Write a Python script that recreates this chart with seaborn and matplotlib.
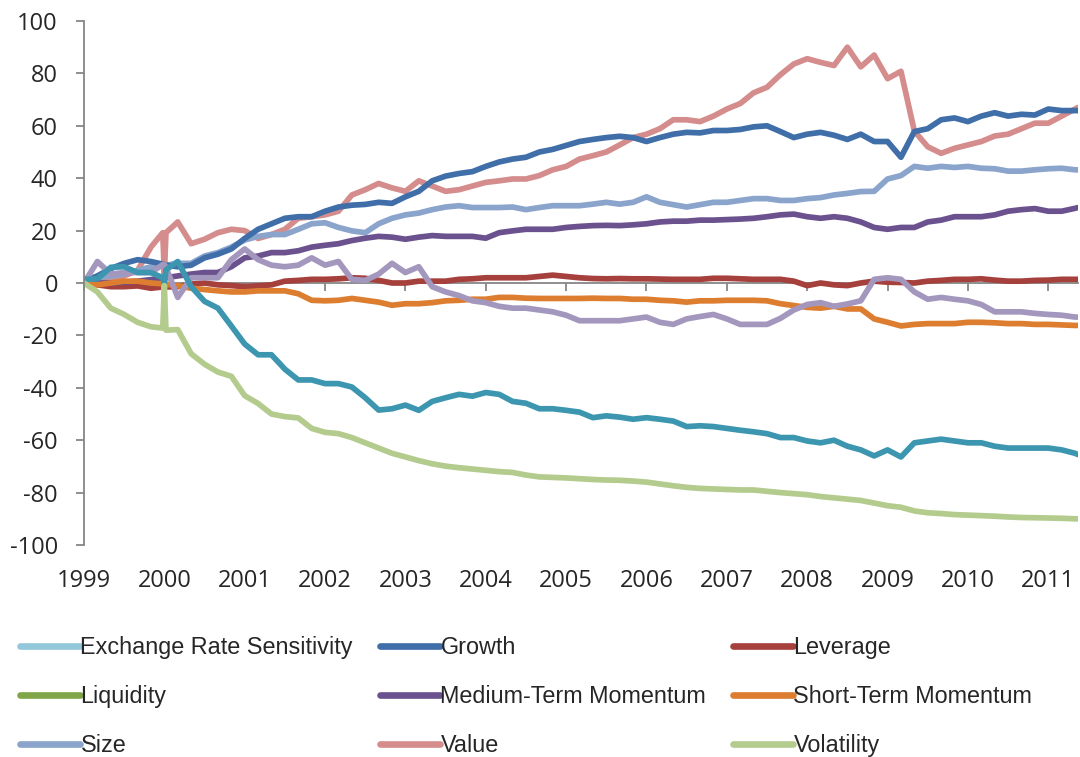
import numpy as np
import pandas as pd
import matplotlib
matplotlib.use("Agg")
import matplotlib.pyplot as plt
import seaborn as sns
from matplotlib.lines import Line2D

# ---------------- data ----------------
base = [1999 + k / 6 for k in range(75)]
dates = base[:6] + [1999.98, 2000.0, 2000.02] + base[7:] + [2011.37]

exchange_rate = [
    0, 8.2, 3.4, 4, 4, 4,
    7, 7, 6,
    -5.5, 2, 2, 2, 8.9, 13, 8.9, 6.8, 6.2, 6.8, 9.6, 6.8,
    8.2, 1.4, 1, 3.4, 7.5, 4, 6.2, -1.4, -3.4, -4.8, -6.8, -7.5, -8.9, -9.6, -9.6, -10.3, -11, -12.3, -14.4,
    -14.4, -14.4, -14.4, -13.7, -13, -15, -15.8, -13.7, -12.8, -12, -13.7, -15.8, -15.8, -15.8, -13.5, -10.3, -8.2, -7.5,
    -8.9, -8, -6.8, 1.4, 2, 1.4, -3.4, -6.2, -5.5, -6.2, -6.8, -8.2, -11, -11, -11, -11.6, -12, -12.3, -13,
    -13]
growth = [
    0.7, 2.7, 5.5, 7.5, 8.9, 8.2,
    7.2, 7, 6.8,
    6.2, 6.8, 9.6, 11, 13, 17, 20.5, 22.6, 24.7, 25.3, 25.3, 27.4,
    29, 29.7, 30, 30.8, 30.4, 32.9, 35, 39, 40.8, 41.8, 42.5, 44.5, 46.2, 47.3, 48, 50, 51, 52.5, 54,
    54.8, 55.5, 56, 55.5, 54, 55.5, 56.8, 57.5, 57.3, 58.2, 58.2, 58.6, 59.6, 60, 57.8, 55.5, 56.8, 57.5,
    56.4, 54.8, 56.8, 54, 54, 48, 57.8, 58.9, 62.3, 63, 61.6, 63.7, 65, 63.7, 64.4, 64.1, 66.4, 65.8, 65.8,
    65.8]
leverage = [
    0, -0.7, -1.4, -1.4, -1.1, -2,
    -1.5, -1.5, -1.5,
    -1.4, -0.4, 0, -0.7, -1, -1.4, -1.1, -0.7, 0.7, 1, 1.4, 1.4,
    1.6, 2, 1.8, 1, 0, 0, 0.7, 0.7, 0.7, 1.4, 1.6, 2, 2, 2, 2, 2.5, 3, 2.5, 2,
    1.7, 1.6, 1.7, 1.6, 1.6, 1.5, 1.4, 1.4, 1.4, 1.8, 1.8, 1.6, 1.4, 1.4, 1.4, 0.7, -1, 0,
    -0.7, -1, 0, 0.7, 0.3, 0.2, 0, 0.7, 1, 1.4, 1.4, 1.6, 1.1, 0.7, 0.7, 1, 1.1, 1.4, 1.4,
    1.4]
liquidity = [
    1.4, 1.6, 6, 6.2, 4, 4,
    2, 0, 5,
    8.2, -1.4, -7, -9.6, -16.4, -23.3, -27.4, -27.4, -32.9, -37, -37, -38.4,
    -38.4, -39.7, -43.8, -48.5, -48, -46.6, -48.6, -45.2, -43.8, -42.5, -43.2, -41.8, -42.5, -45.2, -45.9, -48, -48, -48.6, -49.3,
    -51.4, -50.7, -51.2, -52, -51.4, -52, -52.7, -54.8, -54.5, -54.8, -55.5, -56.2, -56.8, -57.5, -59, -59, -60.3, -61,
    -60, -62.3, -63.7, -66, -63.7, -66.4, -61, -60.3, -59.6, -60.3, -61, -61, -62.3, -63, -63, -63, -63, -63.7, -65,
    -65.5]
medium_momentum = [
    0, 0, 0, 0.3, 0.7, 1.3,
    2, 2, 2,
    2.7, 3.4, 4, 4, 6.2, 9.6, 10.3, 11.6, 11.6, 12.3, 13.7, 14.4,
    15, 16.2, 17.1, 17.8, 17.5, 16.7, 17.5, 18.1, 17.8, 17.8, 17.8, 17.1, 19.2, 19.9, 20.5, 20.5, 20.5, 21.2, 21.6,
    21.9, 22, 21.9, 22.2, 22.6, 23.3, 23.6, 23.6, 24, 24, 24.2, 24.4, 24.7, 25.3, 26, 26.3, 25.3, 24.7,
    25.3, 24.7, 23.3, 21.2, 20.5, 21.2, 21.2, 23.3, 24, 25.3, 25.3, 25.3, 26, 27.4, 28, 28.4, 27.4, 27.4, 28.5,
    28.8]
short_momentum = [
    0, -0.7, 0, 0.7, 0.7, 0,
    -0.3, -0.4, -0.5,
    -1, -2, -2.5, -3, -3.4, -3.4, -3, -3, -3, -4.1, -6.6, -6.8,
    -6.6, -5.9, -6.6, -7.3, -8.5, -7.9, -7.9, -7.5, -6.8, -6.6, -6.2, -6.2, -5.5, -5.5, -5.8, -5.9, -5.9, -5.9, -5.9,
    -5.8, -5.9, -5.9, -6.2, -6.2, -6.6, -6.8, -7.3, -6.8, -6.8, -6.6, -6.6, -6.6, -6.8, -7.9, -8.6, -9.3, -9.6,
    -8.9, -9.9, -9.9, -13.7, -15, -16.4, -15.8, -15.5, -15.5, -15.5, -15, -15, -15.2, -15.5, -15.5, -15.8, -15.8, -16, -16.2,
    -16.2]
size = [
    0.7, 2, 2.7, 3.4, 4.8, 6.2,
    6.5, 6.5, 6.8,
    7.5, 7.5, 10.3, 11.6, 13.7, 16.4, 17.8, 18.5, 18.5, 20.5, 22.6, 23,
    21.2, 19.9, 19.2, 22.6, 24.7, 26, 26.7, 28, 29, 29.5, 28.8, 28.8, 28.8, 29, 28, 28.8, 29.5, 29.5, 29.5,
    30.1, 30.8, 30.1, 30.8, 32.9, 30.8, 29.9, 29, 29.9, 30.8, 30.8, 31.5, 32.2, 32.2, 31.5, 31.5, 32.2, 32.6,
    33.6, 34.2, 34.9, 35, 39.7, 41, 44.5, 43.8, 44.5, 44.1, 44.5, 43.8, 43.6, 42.7, 42.7, 43.2, 43.6, 43.8, 43.2,
    43.2]
value = [
    0, 0.7, 2, 2.7, 4.8, 13.7,
    19.2, 3.4, 19.2,
    23.3, 15, 16.7, 19.2, 20.5, 20, 17, 18.5, 20.5, 24.7, 25.3, 26,
    27.4, 33.6, 35.6, 38, 36.3, 35, 39, 37, 35, 35.6, 37, 38.4, 39, 39.7, 39.7, 41, 43.2, 44.5, 47.3,
    48.6, 50, 52.7, 55.5, 56.8, 58.9, 62.3, 62.3, 61.6, 63.7, 66.4, 68.5, 72.6, 74.7, 79.5, 83.6, 85.6, 84.2,
    83, 90, 82.5, 87, 78, 80.8, 58, 52, 49.5, 51.4, 52.7, 54, 56.1, 56.8, 58.9, 61, 61, 63.7, 66.4,
    67]
volatility = [
    0, -3.4, -9.6, -12, -15, -16.7,
    -17.2, -1, -18,
    -17.8, -27, -31, -34, -35.6, -43, -46, -50, -51, -51.5, -55.5, -57,
    -57.5, -59, -61, -63, -65, -66.4, -67.8, -69, -69.9, -70.5, -71, -71.5, -72, -72.3, -73.3, -74, -74.2, -74.4, -74.7,
    -75, -75.2, -75.3, -75.6, -76, -76.7, -77.4, -78, -78.4, -78.6, -78.8, -79, -79, -79.5, -80, -80.4, -80.8, -81.5,
    -82, -82.5, -83, -84, -85, -85.6, -87, -87.7, -88, -88.4, -88.6, -88.8, -89, -89.3, -89.5, -89.6, -89.7, -89.8, -90,
    -90]

factors = ["Exchange Rate Sensitivity", "Growth", "Leverage", "Liquidity",
           "Medium-Term Momentum", "Short-Term Momentum", "Size", "Value", "Volatility"]
series = [exchange_rate, growth, leverage, liquidity, medium_momentum,
          short_momentum, size, value, volatility]
year_ticks = list(range(1999, 2012))
y_ticks = list(range(-100, 101, 20))

# ---------------- styling ----------------
line_colors = {
    "Exchange Rate Sensitivity": "#A497BE",
    "Growth": "#3F6EA9",
    "Leverage": "#A5403D",
    "Liquidity": "#3D96B0",
    "Medium-Term Momentum": "#6B528E",
    "Short-Term Momentum": "#DD7D30",
    "Size": "#8AA4CC",
    "Value": "#D48D8C",
    "Volatility": "#B4CB8E",
}
legend_colors = dict(line_colors)
legend_colors["Exchange Rate Sensitivity"] = "#93C7DA"
legend_colors["Liquidity"] = "#7FA548"

draw_order = ["Value", "Size", "Growth", "Leverage", "Medium-Term Momentum",
              "Short-Term Momentum", "Exchange Rate Sensitivity", "Liquidity", "Volatility"]

df = pd.concat([pd.DataFrame({"date": dates, "value": s, "factor": f})
                for f, s in zip(factors, series)], ignore_index=True)

sns.set_style("white")
plt.rcParams["font.family"] = ["Open Sans", "DejaVu Sans"]

fig = plt.figure(figsize=(10.8, 7.57), dpi=100)
ax = fig.add_axes([84 / 1080, 1 - 545 / 757, (1078 - 84) / 1080, (545 - 21) / 757])

sns.lineplot(data=df, x="date", y="value", hue="factor", hue_order=draw_order,
             palette=line_colors, linewidth=4.1, legend=False, ax=ax,
             estimator=None, sort=False)

grey = "#868686"
ax.set_xlim(1999, 2011.37)
ax.set_ylim(-100, 100)
ax.set_xlabel("")
ax.set_ylabel("")

for s in ["top", "right"]:
    ax.spines[s].set_visible(False)
ax.spines["left"].set_color(grey)
ax.spines["left"].set_linewidth(1.3)
ax.spines["bottom"].set_position(("data", 0))
ax.spines["bottom"].set_color(grey)
ax.spines["bottom"].set_linewidth(1.3)
ax.spines["bottom"].set_zorder(0.5)

ax.set_yticks(y_ticks)
ax.set_yticklabels([str(v) for v in y_ticks])
ax.tick_params(axis="y", direction="out", length=5.8, width=1.3, color=grey,
               labelsize=17, pad=13, left=True)
ax.set_xticks(year_ticks)
ax.tick_params(axis="x", direction="out", length=5.8, width=1.3, color=grey,
               labelbottom=False, bottom=True)

sec = ax.secondary_xaxis("bottom")
sec.set_xticks(year_ticks)
sec.set_xticklabels([str(y) for y in year_ticks])
sec.tick_params(axis="x", length=0, labelsize=17, pad=17)
sec.spines["bottom"].set_visible(False)

# ---------------- legend: three columns, filled row by row ----------------
col_x = [20 / 1080, 380 / 1080, 733 / 1080]
for c in range(3):
    names = [factors[r * 3 + c] for r in range(3)]
    handles = [Line2D([], [], color=legend_colors[n], linewidth=4.8) for n in names]
    fig.legend(handles, names, loc="upper left",
               bbox_to_anchor=(col_x[c], 1 - 636 / 757),
               frameon=False, borderpad=0, borderaxespad=0,
               handlelength=2.57, handletextpad=0.02, labelspacing=1.12,
               prop={"family": ["Liberation Sans", "DejaVu Sans"], "size": 16.8})

fig.savefig("out.png", dpi=100)
